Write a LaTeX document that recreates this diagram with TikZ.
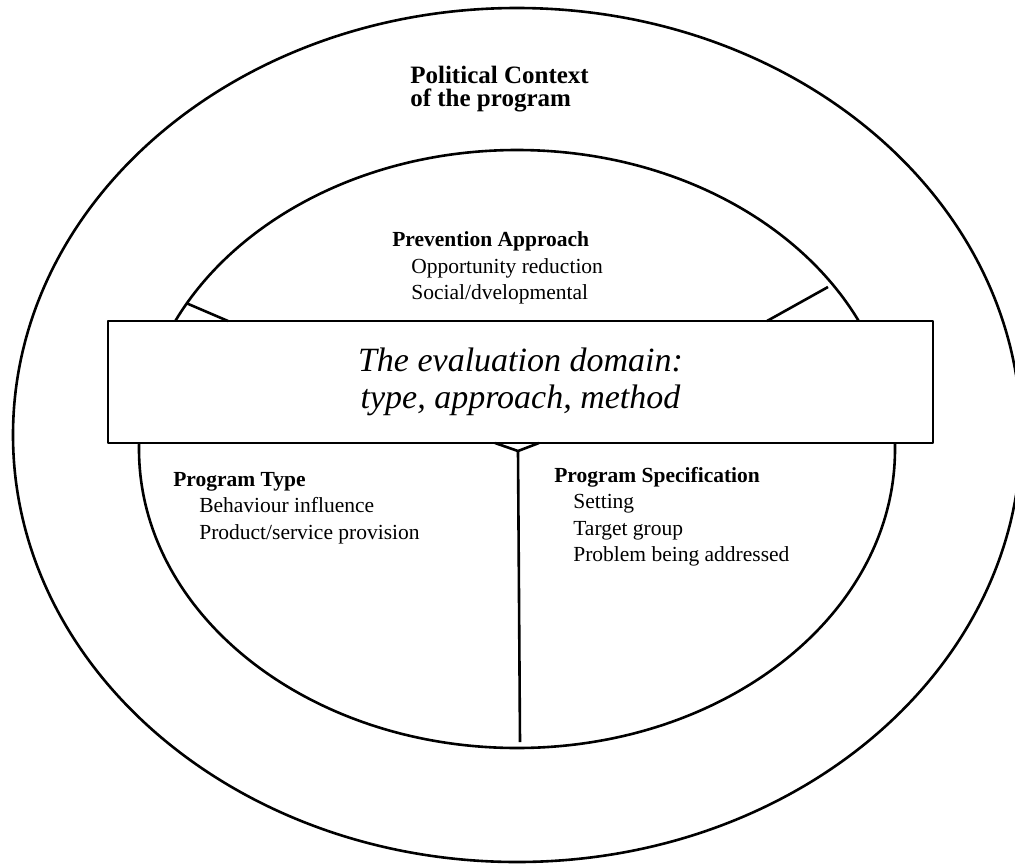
\documentclass[tikz,border=0pt]{standalone}
\usepackage{fontspec}
\setmainfont{Liberation Serif}
\begin{document}
\begin{tikzpicture}[x=1pt,y=-1pt,line width=2.6pt,line join=round,
  bigheadtxt/.style={font=\fontsize{25}{25}\selectfont\bfseries,anchor=base west,inner sep=0pt},
  headtxt/.style={font=\fontsize{21.5}{21}\selectfont\bfseries,anchor=base west,inner sep=0pt},
  itemtxt/.style={font=\fontsize{21.5}{21}\selectfont,anchor=base west,inner sep=0pt},
  domainbox/.style={draw,fill=white,line width=2.4pt,minimum width=825pt,minimum height=122pt,inner sep=0pt,
    font=\fontsize{34}{37}\selectfont\itshape,align=center}]
\useasboundingbox (0,0) rectangle (1015,865);
\clip (0,0) rectangle (1015,865);
\fill[white] (0,0) rectangle (1015,865);
% outer and inner ellipses
\draw (517,435) ellipse [x radius=504, y radius=427];
\draw (517,449) ellipse [x radius=378, y radius=299];
% the evaluation domain box
\node[domainbox] (box) at (520.5,382) {The evaluation domain:\\type, approach, method};
% connector points
\coordinate (el) at (186,303);
\coordinate (bl) at (228,321);
\coordinate (er) at (828,287);
\coordinate (br) at (767,321);
\coordinate (y1) at (495,443);
\coordinate (y2) at (539,443);
\coordinate (yc) at (518,451);
\coordinate (yb) at (520,742);
\draw (el) -- (bl);
\draw (er) -- (br);
\draw (y1) -- (yc) -- (y2);
\draw (yc) -- (yb);
% texts
\node[bigheadtxt] (pc1) at (409,83) {Political Context};
\node[bigheadtxt] (pc2) at (409,106) {of the program};
\node[headtxt] (pa) at (391,246) {Prevention Approach};
\node[itemtxt] (pa1) at (410,273) {Opportunity reduction};
\node[itemtxt] (pa2) at (410,299) {Social/dvelopmental};
\node[headtxt] (pt) at (172,486) {Program Type};
\node[itemtxt] (pt1) at (198,512) {Behaviour influence};
\node[itemtxt] (pt2) at (198,539) {Product/service provision};
\node[headtxt] (ps) at (553,482) {Program Specification};
\node[itemtxt] (ps1) at (572,508) {Setting};
\node[itemtxt] (ps2) at (572,535) {Target group};
\node[itemtxt] (ps3) at (572,561) {Problem being addressed};
\end{tikzpicture}
\end{document}
